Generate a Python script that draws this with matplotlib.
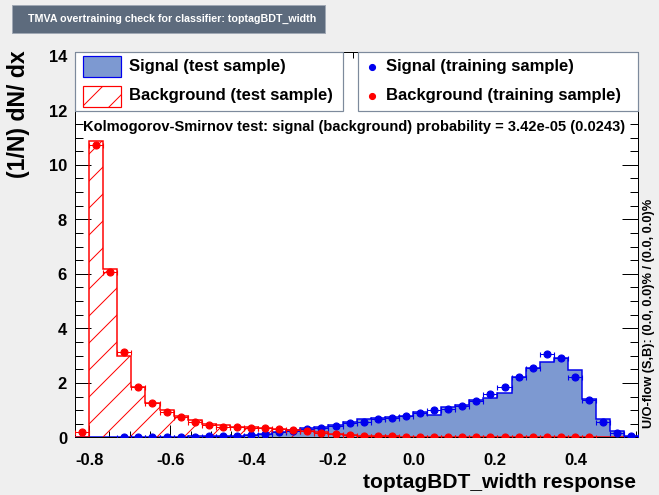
import numpy as np
import matplotlib
matplotlib.use("Agg")
import matplotlib.pyplot as plt
from matplotlib.patches import Rectangle
from matplotlib.lines import Line2D
from matplotlib.ticker import MultipleLocator

# dpi 81 so that the '/' hatch spacing is close to the ROOT one
DPI = 81
W, H = 659, 495


def pt(v):
    # pixels -> points
    return v * 72.0 / DPI


plt.rcParams["font.family"] = ["Liberation Sans", "DejaVu Sans"]
plt.rcParams["font.weight"] = "bold"
plt.rcParams["axes.unicode_minus"] = False
plt.rcParams["hatch.linewidth"] = pt(1.0)

# binning of the response histograms
xmin, xmax, nbins = -0.835, 0.555, 40

# signal, test sample (filled histogram)
sig_test = [0.0, 0.0, 0.0, 0.01, 0.015, 0.02, 0.025, 0.03, 0.04, 0.05,
            0.06, 0.07, 0.09, 0.12, 0.19, 0.27, 0.34, 0.40, 0.46, 0.58,
            0.66, 0.72, 0.76, 0.79, 0.95, 0.83, 1.13, 1.19, 1.38, 1.44,
            1.64, 2.23, 2.54, 2.75, 2.93, 2.46, 1.41, 0.68, 0.23, 0.07]
# signal, training sample (points)
sig_train = [np.nan, np.nan, np.nan, 0.01, 0.01, 0.015, 0.02, 0.025, 0.03, 0.04,
             0.05, 0.06, 0.08, 0.12, 0.21, 0.25, 0.30, 0.35, 0.42, 0.52,
             0.58, 0.67, 0.70, 0.79, 0.89, 1.00, 1.05, 1.17, 1.35, 1.60,
             1.86, 2.20, 2.54, 3.05, 2.90, 2.23, 1.39, 0.56, 0.18, 0.07]
# background, test sample (hatched histogram)
bkg_test = [0.0, 10.89, 6.17, 3.00, 1.86, 1.27, 0.99, 0.80, 0.63, 0.50,
            0.44, 0.40, 0.37, 0.36, 0.32, 0.28, 0.24, 0.19, 0.14, 0.10,
            0.07, 0.05, 0.04, 0.035, 0.03, 0.03, 0.03, 0.03, 0.03, 0.025,
            0.025, 0.025, 0.02, 0.02, 0.02, 0.02, 0.02, 0.0, 0.0, 0.0]
# background, training sample (points)
bkg_train = [0.19, 10.71, 6.08, 3.13, 1.84, 1.26, 0.95, 0.74, 0.58, 0.46,
             0.40, 0.37, 0.35, 0.34, 0.30, 0.26, 0.24, 0.18, 0.13, 0.09,
             0.055, 0.05, 0.04, 0.035, 0.03, 0.03, 0.03, 0.03, 0.03, 0.025,
             0.025, 0.025, 0.02, 0.02, 0.02, 0.02, 0.02, np.nan, np.nan, np.nan]

title = "TMVA overtraining check for classifier: toptagBDT_width"
ks_text = "Kolmogorov-Smirnov test: signal (background) probability = 3.42e-05 (0.0243)"
uo_text = "U/O-flow (S,B): (0.0, 0.0)% / (0.0, 0.0)%"

sig_fill = "#7d99d1"
sig_line = "#0000ee"
bkg_line = "#ff0000"

edges = np.linspace(xmin, xmax, nbins + 1)
centers = 0.5 * (edges[1:] + edges[:-1])
halfw = 0.5 * (edges[1] - edges[0])

fig = plt.figure(figsize=(659.3 / DPI, 495.3 / DPI), dpi=DPI, facecolor="#efefef")

# title box
fig.patches.append(Rectangle((12 / W, 1 - 33 / H), (325 - 12) / W, 28 / H,
                             transform=fig.transFigure, facecolor="#5d6b7d",
                             edgecolor="#a0a8b4", lw=pt(1)))
fig.text(172 / W, 1 - 19 / H, title, color="white", fontsize=pt(10.6),
         ha="center", va="center")

ax = fig.add_axes([75 / W, 1 - 437.5 / H, (638 - 75) / W, (437.5 - 52.7) / H])
ax.set_facecolor("white")
ax.set_xlim(xmin, xmax)
ax.set_ylim(0, 14.12)

ax.stairs(sig_test, edges, fill=True, color=sig_fill, zorder=2)
ax.stairs(sig_test, edges, color=sig_line, lw=pt(1.5), zorder=3)
ax.stairs(bkg_test, edges, fill=True, facecolor="none", edgecolor=bkg_line,
          hatch="/", lw=0, zorder=4)
ax.stairs(bkg_test, edges, color=bkg_line, lw=pt(1.5), zorder=5)

ax.errorbar(centers, sig_train, xerr=halfw, fmt="o", color=sig_line,
            ms=pt(7), elinewidth=pt(1), capsize=pt(2.5), zorder=6)
ax.errorbar(centers, bkg_train, xerr=halfw, fmt="o", color=bkg_line,
            ms=pt(7), elinewidth=pt(1), capsize=pt(2.5), zorder=7)

# axes and ticks
ax.xaxis.set_major_locator(MultipleLocator(0.2))
ax.xaxis.set_minor_locator(MultipleLocator(0.05))
ax.yaxis.set_major_locator(MultipleLocator(2))
ax.yaxis.set_minor_locator(MultipleLocator(0.5))
ax.tick_params(which="both", direction="in", top=True, right=True,
               width=pt(1), labelsize=pt(16.5))
ax.tick_params(axis="x", which="major", length=pt(12), pad=pt(15))
ax.tick_params(axis="x", which="minor", length=pt(6))
ax.tick_params(axis="y", which="major", length=pt(16), pad=pt(8))
ax.tick_params(axis="y", which="minor", length=pt(8))
for s in ax.spines.values():
    s.set_linewidth(pt(1))

fig.text(636 / W, 1 - 482 / H, "toptagBDT_width response", fontsize=pt(21),
         ha="right", va="center")
fig.text(18 / W, 1 - 50 / H, "(1/N) dN/ dx", fontsize=pt(23), rotation=90,
         ha="center", va="top")
fig.text(649 / W, 1 - 428 / H, uo_text, fontsize=pt(12.7), rotation=90,
         ha="center", va="bottom")

# legends, drawn as boxes like the ROOT ones
box_col = "#7d8a9c"
fig.patches.append(Rectangle((75 / W, 1 - 111 / H), (343 - 75) / W, (111 - 52.7) / H,
                             transform=fig.transFigure, facecolor="white",
                             edgecolor=box_col, lw=pt(1.2), zorder=5))
fig.patches.append(Rectangle((358 / W, 1 - 111 / H), (638 - 358) / W, (111 - 52.7) / H,
                             transform=fig.transFigure, facecolor="white",
                             edgecolor=box_col, lw=pt(1.2), zorder=5))
fig.patches.append(Rectangle((83 / W, 1 - 77 / H), 38 / W, 21 / H,
                             transform=fig.transFigure, facecolor=sig_fill,
                             edgecolor=sig_line, lw=pt(1.2), zorder=6))
fig.patches.append(Rectangle((83 / W, 1 - 107 / H), 38 / W, 21 / H,
                             transform=fig.transFigure, facecolor="white",
                             edgecolor=bkg_line, hatch="/", lw=pt(1.2), zorder=6))
fig.lines.append(Line2D([372 / W], [1 - 67 / H], transform=fig.transFigure,
                        marker="o", ms=pt(6), color=sig_line, zorder=6))
fig.lines.append(Line2D([372 / W], [1 - 96.5 / H], transform=fig.transFigure,
                        marker="o", ms=pt(6), color=bkg_line, zorder=6))
leg_fs = pt(16.6)
fig.text(129 / W, 1 - 66 / H, "Signal (test sample)", fontsize=leg_fs, va="center", zorder=7)
fig.text(129 / W, 1 - 95.5 / H, "Background (test sample)", fontsize=leg_fs, va="center", zorder=7)
fig.text(386 / W, 1 - 66 / H, "Signal (training sample)", fontsize=leg_fs, va="center", zorder=7)
fig.text(386 / W, 1 - 95.5 / H, "Background (training sample)", fontsize=leg_fs, va="center", zorder=7)

fig.text(83 / W, 1 - 127 / H, ks_text, fontsize=pt(14.6), va="center")

fig.savefig("out.png", dpi=DPI, facecolor=fig.get_facecolor())
